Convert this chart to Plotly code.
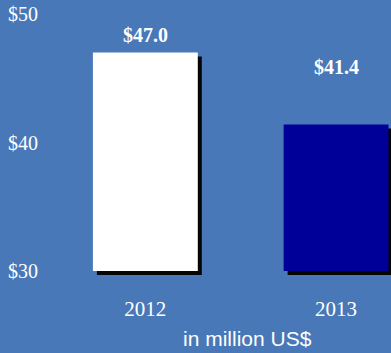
import plotly.graph_objects as go

# Annual figures (million US$)
years = ["2012", "2013"]
revenue = [47.0, 41.4]
bar_colors = ["#ffffff", "#000099"]
tick_values = [30, 40, 50]
tick_labels = ["$30", "$40", "$50"]

BG = "#4878b8"
W, H = 391, 353
margin = dict(l=50, r=0, t=10, b=78)
x_range = [-0.5, 1.288]
y_range = [29.69, 50.31]
BASE = 30
BAR_W = 0.55

plot_w = W - margin["l"] - margin["r"]
plot_h = H - margin["t"] - margin["b"]
dx = 4 * (x_range[1] - x_range[0]) / plot_w   # 4 px drop shadow, in data units
dy = 4 * (y_range[1] - y_range[0]) / plot_h

fig = go.Figure()

# drop shadow behind each bar
fig.add_trace(go.Bar(
    x=years, y=[v - BASE for v in revenue], base=BASE - dy,
    width=BAR_W, offset=-BAR_W / 2 + dx,
    marker=dict(color="#050505", line=dict(width=0)),
    hoverinfo="skip", showlegend=False,
))

fig.add_trace(go.Bar(
    x=years, y=[v - BASE for v in revenue], base=BASE,
    width=BAR_W, offset=-BAR_W / 2,
    marker=dict(color=bar_colors, line=dict(width=0)),
    hovertemplate="%{x}: $%{customdata:.1f}M<extra></extra>",
    customdata=revenue, showlegend=False,
))

# value labels above the bars
label_shift = [18, 58]
for i, (v, s) in enumerate(zip(revenue, label_shift)):
    fig.add_annotation(
        x=i, y=v, text=f"${v:.1f}", showarrow=False,
        yanchor="middle", yshift=s,
        font=dict(family="Liberation Serif, Times New Roman, serif", size=20,
                  color="white", weight="bold"),
    )

fig.add_annotation(
    xref="paper", yref="paper",
    x=(247.5 - margin["l"]) / plot_w, y=(H - margin["b"] - 338) / plot_h,
    text="in million US$", showarrow=False,
    xanchor="center", yanchor="middle",
    font=dict(family="Liberation Sans, Arial, sans-serif", size=21, color="white"),
)

fig.update_layout(
    width=W, height=H, margin=margin,
    paper_bgcolor=BG, plot_bgcolor=BG,
    barmode="overlay",
    xaxis=dict(
        type="category",
        range=x_range, showgrid=False, zeroline=False, showline=False,
        ticks="", ticklabelstandoff=19,
        tickfont=dict(family="Liberation Serif, Times New Roman, serif", size=21, color="white"),
    ),
    yaxis=dict(
        range=y_range, tickvals=tick_values, ticktext=tick_labels,
        showgrid=False, zeroline=False, showline=False, ticks="",
        ticklabelstandoff=11,
        tickfont=dict(family="Liberation Serif, Times New Roman, serif", size=20, color="white"),
    ),
)

fig.write_html("out.html")
